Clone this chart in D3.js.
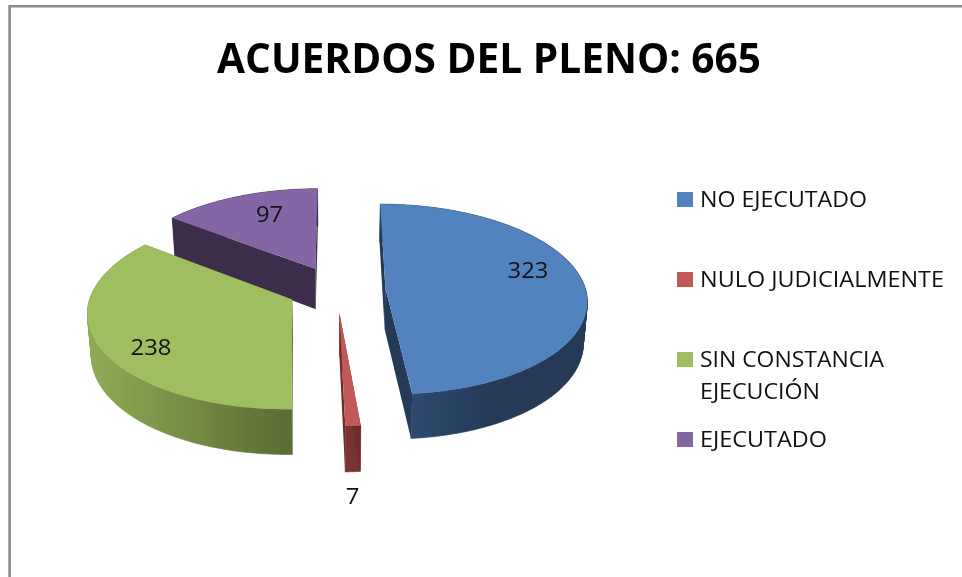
<!DOCTYPE html>
<html><head><meta charset="utf-8">
<script src="https://cdn.jsdelivr.net/npm/d3@7"></script>
<style>html,body{margin:0;padding:0;background:#fff;overflow:hidden}svg{display:block;filter:blur(0.4px)}text{font-family:"Open Sans","Noto Sans",sans-serif;fill:#111}</style>
</head><body><svg id="c" width="962" height="577"></svg>
<script>
const titleText = "ACUERDOS DEL PLENO: 665";
const categories = ["NO EJECUTADO","NULO JUDICIALMENTE","SIN CONSTANCIA EJECUCIÓN","EJECUTADO"];
const values = [323,7,238,97];
const topColors = ["#5283bf","#c15a56","#9fbe5f","#8566a4"];
const wallColors = ["#243a56","#6e2c2b","#5b6b35","#3c2d4a"];
const gradStart = ["#2f4a6f","#7a3432","#8fac55","#3c2d4a"];
const gradEnd = ["#243a56","#6e2c2b","#5b6b35","#3c2d4a"];
const legendLines = [["NO EJECUTADO"],["NULO JUDICIALMENTE"],["SIN CONSTANCIA","EJECUCIÓN"],["EJECUTADO"]];
const legendWidths = [[167],[244],[184,120],[127]];
const legendBase = [207,287,367,447];
const labelPos = [[528,278],[352.5,504],[151,355],[269.5,222]];

const svg = d3.select("#c");
const W=962,H=577;
// frame
svg.append("path").attr("d",`M9.6,${H}V6.3H${W}`).attr("fill","none").attr("stroke","#8c8c8c").attr("stroke-width",2.6);

svg.append("text").text(titleText).attr("x",217).attr("y",72.5).attr("font-size",42).attr("font-weight",700)
  .attr("textLength",544).attr("lengthAdjust","spacingAndGlyphs").style("fill","#000");

// projection parameters
const cx=336.5, cy=289, R=200, tiltY=94, persp=0.118, depth=41, explode=0.245, shrink=0.016;
const colorTop=d3.scaleOrdinal(categories,topColors), colorWall=d3.scaleOrdinal(categories,wallColors);
const proj=(u,v,z)=>{const s=1/(1+persp*v);return [cx+R*u*s*(1-shrink*z), cy-tiltY*v*s+z*depth*Math.pow(s,0.7)];};
const arcs=d3.pie().sort(null).value(d=>d.v)(categories.map((c,i)=>({c,v:values[i],i})));
const line=d3.line();
const defs=svg.append("defs");
const pts=a=>{
  const mid=(a.startAngle+a.endAngle)/2, ex=explode*Math.sin(mid), ey=explode*Math.cos(mid);
  return {P:(r,t,z)=>proj(ex+r*Math.sin(t),ey+r*Math.cos(t),z)};
};
const order=[3,2,0,1];
order.forEach(k=>{
  const a=arcs[k],{P}=pts(a),i=a.data.i;
  const n=Math.max(4,Math.round((a.endAngle-a.startAngle)*60));
  const ts=d3.range(n+1).map(j=>a.startAngle+(a.endAngle-a.startAngle)*j/n);
  const g=svg.append("g");
  const outer=ts.map(t=>P(1,t,0));
  const front=ts.filter(t=>Math.cos(t)<0.05).map(t=>P(1,t,0)[0]);
  const ext=d3.extent(front.length?front:outer.map(p=>p[0]));
  const gid="g"+i;
  const lg=defs.append("linearGradient").attr("id",gid).attr("gradientUnits","userSpaceOnUse")
    .attr("x1",ext[0]).attr("x2",k===0||k===1?ext[0]+80:ext[1]).attr("y1",0).attr("y2",0);
  lg.append("stop").attr("offset",0).attr("stop-color",gradStart[i]);
  lg.append("stop").attr("offset",1).attr("stop-color",gradEnd[i]);
  // outer wall, one quad per arc step so the silhouette stays closed
  const quads=d3.pairs(ts).map(([t0,t1])=>line([P(1,t0,0),P(1,t1,0),P(1,t1,1),P(1,t0,1)])+"Z");
  g.append("path").attr("d",quads.join("")).attr("fill",`url(#${gid})`)
    .attr("stroke",`url(#${gid})`).attr("stroke-width",0.6).attr("fill-rule","nonzero");
  // radial walls
  [a.startAngle,a.endAngle].forEach(t=>{
    g.append("path").attr("d",line([P(0,0,0),P(1,t,0),P(1,t,1),P(0,0,1)])+"Z").attr("fill",colorWall(a.data.c));
  });
  // top face
  g.append("path").attr("d",line([P(0,0,0)].concat(outer))+"Z").attr("fill",colorTop(a.data.c));
});

// data labels
labelPos.forEach((p,i)=>{
  const s=String(values[i]);
  svg.append("text").text(s).attr("x",p[0]).attr("y",p[1]).attr("text-anchor","middle").attr("font-size",22.5)
    .attr("textLength",s.length*13.6).attr("lengthAdjust","spacingAndGlyphs");
});

// legend
const lgd=svg.append("g");
categories.forEach((c,i)=>{
  lgd.append("rect").attr("x",677).attr("y",legendBase[i]-15).attr("width",16).attr("height",15).attr("fill",colorTop(c));
  legendLines[i].forEach((t,j)=>{
    lgd.append("text").text(t).attr("x",700).attr("y",legendBase[i]+j*32).attr("font-size",21.5)
      .attr("textLength",legendWidths[i][j]).attr("lengthAdjust","spacingAndGlyphs");
  });
});
</script></body></html>
